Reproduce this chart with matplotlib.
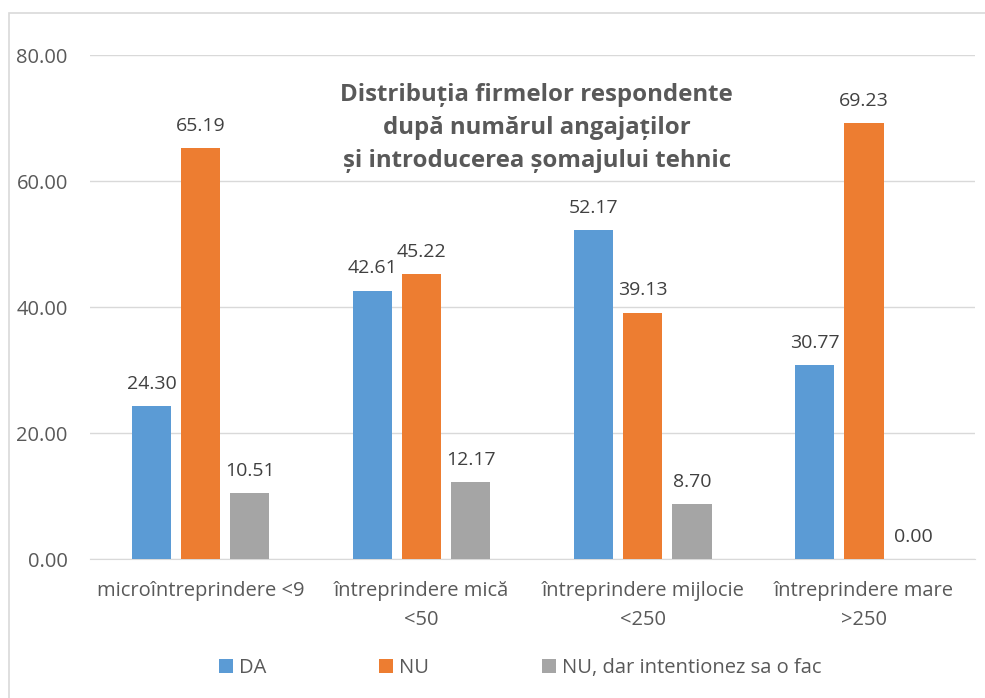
import numpy as np
import matplotlib
matplotlib.use("Agg")
import matplotlib.pyplot as plt

plt.rcParams['font.family'] = ['Open Sans', 'DejaVu Sans']

categories = ["microîntreprindere <9", "întreprindere mică\n<50",
              "întreprindere mijlocie\n<250", "întreprindere mare\n>250"]
series_names = ["DA", "NU", "NU, dar intentionez sa o fac"]
da = [24.30, 42.61, 52.17, 30.77]
nu = [65.19, 45.22, 39.13, 69.23]
nu_dar = [10.51, 12.17, 8.70, 0.00]
colors = ["#5b9bd5", "#ed7d31", "#a5a5a5"]

title = "Distribuția firmelor respondente\ndupă numărul angajaților\nși introducerea șomajului tehnic"

fig = plt.figure(figsize=(9.85, 6.98), dpi=100)
# outer chart border
fig.patches.append(plt.Rectangle((0.009, -0.01), 1.2, 0.992, transform=fig.transFigure,
                                 fill=False, edgecolor="#d9d9d9", linewidth=1.2))
ax = fig.add_axes([0.0914, 0.199, 0.898, 0.722])

x = np.arange(len(categories))
w = 0.177
step = 0.222
for i, (vals, name) in enumerate(zip([da, nu, nu_dar], series_names)):
    pos = x + (i - 1) * step
    bars = ax.bar(pos, vals, width=w, color=colors[i], label=name, zorder=3)
    for b, v in zip(bars, vals):
        ax.text(b.get_x() + b.get_width() / 2, v + 2.1, "%.2f" % v,
                ha="center", va="bottom", fontsize=14, color="#404040")

ax.set_ylim(0, 80)
ax.set_xlim(-0.5, 3.5)
ax.set_yticks([0, 20, 40, 60, 80])
ax.set_yticklabels(["%.2f" % t for t in [0, 20, 40, 60, 80]])
ax.set_xticks(x)
ax.set_xticklabels(categories, linespacing=1.55)
ax.tick_params(axis="both", length=0, labelsize=14.5, colors="#595959")
ax.tick_params(axis="y", pad=16)
ax.tick_params(axis="x", pad=16)
ax.grid(axis="y", color="#d9d9d9", linewidth=1, zorder=0)
for s in ["top", "right", "left"]:
    ax.spines[s].set_visible(False)
ax.spines["bottom"].set_color("#d9d9d9")

ax.text(0.505, 0.944, title, transform=ax.transAxes, ha="center", va="top",
        fontsize=17.3, fontweight="bold", color="#595959", linespacing=1.5)

fig.legend(loc="lower center", bbox_to_anchor=(0.528, 0.003), ncol=3, frameon=False,
           fontsize=14.5, handlelength=0.7, handleheight=0.7, columnspacing=5.6,
           handletextpad=0.3, labelcolor="#595959")

fig.savefig("out.png", dpi=100)
